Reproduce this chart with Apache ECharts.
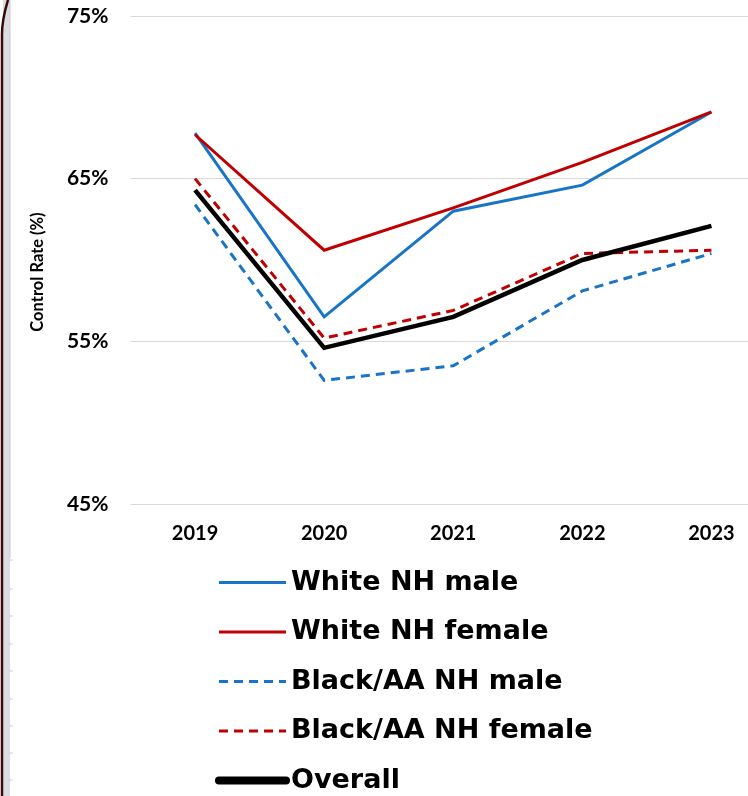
<!DOCTYPE html>
<html>
<head>
<meta charset="utf-8">
<script src="https://cdn.jsdelivr.net/npm/echarts@6/dist/echarts.min.js"></script>
<style>
  html, body { margin: 0; padding: 0; background: #fff; overflow: hidden; }
  /* the plot runs past the right edge of the page, so the canvas is wider than the window */
  #chart { width: 776px; height: 796px; }
</style>
</head>
<body>
<div id="chart"></div>
<script>
// Blood-pressure control rate by group, 2019–2023
const years = ['2019', '2020', '2021', '2022', '2023'];
const whiteMale = [67.8, 56.5, 63.0, 64.6, 69.1];
const whiteFemale = [67.7, 60.6, 63.2, 66.0, 69.1];
const blackMale = [63.4, 52.6, 53.5, 58.1, 60.4];
const blackFemale = [65.0, 55.2, 56.9, 60.4, 60.6];
const overall = [64.3, 54.6, 56.5, 60.0, 62.1];
const yTicks = [45, 55, 65, 75];

const BLUE = '#1874c6';
const RED = '#c00000';

function line(name, data, color, width, dashed) {
  return {
    name: name,
    type: 'line',
    data: data,
    symbol: 'none',
    smooth: false,
    lineStyle: { color: color, width: width, type: dashed ? [9, 6] : 'solid', cap: 'butt', join: 'miter' },
    itemStyle: { color: color },
    z: name === 'Overall' ? 3 : 2
  };
}

const chart = echarts.init(document.getElementById('chart'), null, { renderer: 'canvas' });

// left slide edge decoration
const edgeTicks = [560, 589, 616, 644, 671, 699, 726, 753, 780];
const graphics = [
  { type: 'rect', shape: { x: 3, y: 0, width: 7, height: 796 }, style: { fill: '#dbdcdf' }, silent: true },
  { type: 'line', shape: { x1: 10, y1: 0, x2: 10, y2: 558 }, style: { stroke: '#c9cacd', lineWidth: 1 }, silent: true },
  {
    type: 'bezierCurve', silent: true,
    shape: { x1: 8, y1: 0, cpx1: 5, cpy1: 10, cpx2: 2, cpy2: 20, x2: 2, y2: 34 },
    style: { stroke: '#3a0808', lineWidth: 2.5, fill: null }
  },
  { type: 'line', silent: true, shape: { x1: 2, y1: 34, x2: 2, y2: 796 }, style: { stroke: '#3a0808', lineWidth: 2.5 } }
].concat(edgeTicks.map(y => ({
  type: 'line', silent: true,
  shape: { x1: 9, y1: y, x2: 13, y2: y },
  style: { stroke: '#cfd0d3', lineWidth: 1 }
})));

chart.setOption({
  animation: false,
  backgroundColor: '#ffffff',
  graphic: graphics,
  grid: { left: 130.5, top: 16, right: 0, height: 488 },
  xAxis: {
    type: 'category',
    data: years,
    boundaryGap: true,
    axisLine: { show: false },
    axisTick: { show: false },
    axisLabel: { color: '#000', fontFamily: 'Lato', fontWeight: 'bold', fontSize: 20, margin: 20 }
  },
  yAxis: {
    type: 'value',
    min: yTicks[0],
    max: yTicks[yTicks.length - 1],
    interval: 10,
    name: 'Control Rate (%)',
    nameLocation: 'middle',
    nameGap: 84,
    nameTextStyle: { color: '#000', fontFamily: 'Lato', fontWeight: 'bold', fontSize: 16.5, padding: [0, 24, 0, 0] },
    axisLine: { show: false },
    axisTick: { show: false },
    splitLine: { lineStyle: { color: '#d9d9d9', width: 1 } },
    axisLabel: {
      color: '#000', fontFamily: 'Lato', fontWeight: 'bold', fontSize: 21, margin: 22,
      formatter: v => v + '%'
    }
  },
  legend: {
    orient: 'vertical',
    left: 215,
    top: 567,
    height: 230,
    padding: 0,
    itemWidth: 67,
    itemHeight: 14,
    itemGap: 18.5,
    itemStyle: { opacity: 0 },
    lineStyle: { width: 3 },
    textStyle: { color: '#000', fontFamily: 'DejaVu Sans', fontWeight: 'bold', fontSize: 27, lineHeight: 31 },
    data: [
      'White NH male',
      'White NH female',
      'Black/AA NH male',
      'Black/AA NH female',
      { name: 'Overall', lineStyle: { width: 8, cap: 'round' } }
    ]
  },
  series: [
    line('White NH male', whiteMale, BLUE, 3, false),
    line('White NH female', whiteFemale, RED, 3, false),
    line('Black/AA NH male', blackMale, BLUE, 3, true),
    line('Black/AA NH female', blackFemale, RED, 3, true),
    line('Overall', overall, '#000000', 4.5, false)
  ]
});
</script>
</body>
</html>
